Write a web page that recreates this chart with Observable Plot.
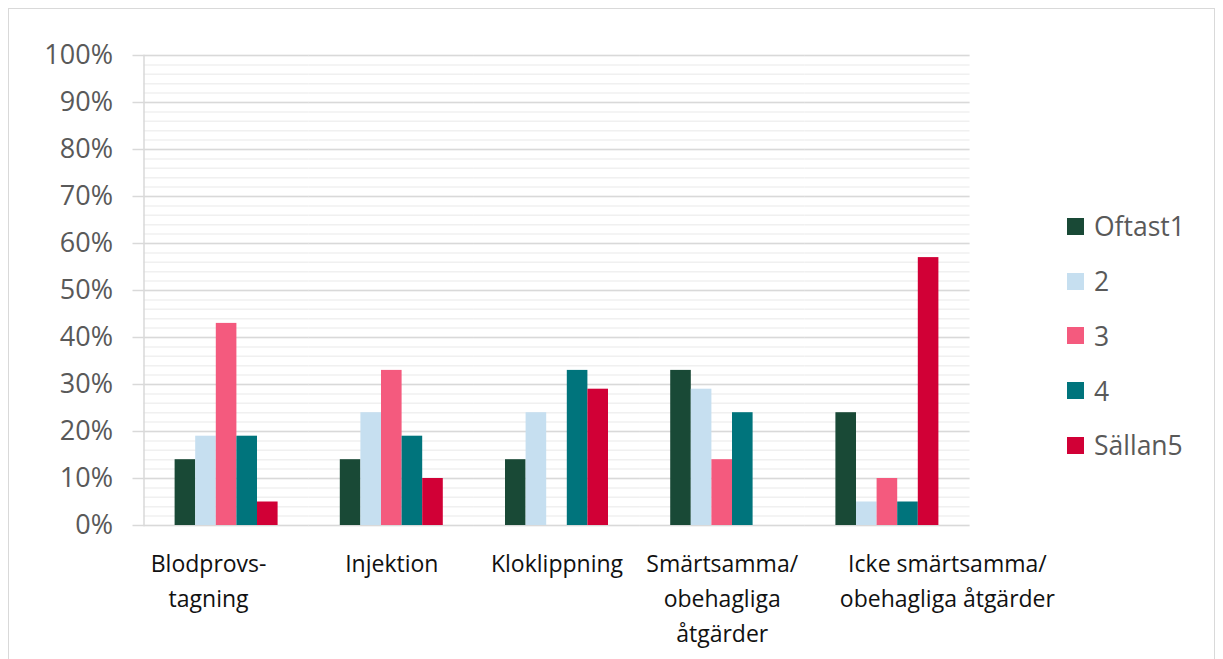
<!DOCTYPE html>
<html>
<head>
<meta charset="utf-8">
<script src="https://cdn.jsdelivr.net/npm/d3@7"></script>
<script src="https://cdn.jsdelivr.net/npm/@observablehq/plot@0.6"></script>
<style>
  html, body { margin: 0; padding: 0; background: #fff; }
  #wrap { position: relative; width: 1223px; height: 659px; overflow: hidden; }
  #border { position: absolute; left: 8px; top: 8px; width: 1207px; height: 700px; border: 1.5px solid #d9d9d9; box-sizing: border-box; }
  #chart { position: absolute; left: 0; top: 0; }
  #legend { position: absolute; left: 1067px; top: 199px; font-family: "Open Sans", sans-serif; font-size: 26.5px; color: #595959; }
  .row { display: flex; align-items: center; height: 54.75px; }
  .sw { width: 17px; height: 17px; margin-right: 10px; }
</style>
</head>
<body>
<div id="wrap">
  <div id="border"></div>
  <div id="chart"></div>
  <div id="legend"></div>
</div>
<script>
const categories = ["Blodprovstagning", "Injektion", "Kloklippning", "Smärtsamma", "Icke smärtsamma"];
const categoryLabels = ["Blodprovs-\ntagning", "Injektion", "Kloklippning", "Smärtsamma/\nobehagliga\nåtgärder", "Icke smärtsamma/\nobehagliga åtgärder"];
const series = ["Oftast1", "2", "3", "4", "Sällan5"];
const colors = ["#194936", "#c6dff0", "#f45a7e", "#00747c", "#d10036"];
const oftast1 = [14, 14, 14, 33, 24];
const s2 = [19, 24, 24, 29, 5];
const s3 = [43, 33, 0, 14, 10];
const s4 = [19, 19, 33, 24, 5];
const sallan5 = [5, 10, 29, 0, 57];
const majorTicks = [0, 10, 20, 30, 40, 50, 60, 70, 80, 90, 100];
const minorTicks = d3.range(0, 101, 2);

const seriesValues = [oftast1, s2, s3, s4, sallan5];
const data = [];
categories.forEach((c, ci) => series.forEach((s, si) => data.push({cat: c, series: s, value: seriesValues[si][ci]})));
const labelData = categories.map((c, i) => ({cat: c, label: categoryLabels[i]}));
const firstCat = categories[0];
const lastCat = categories[categories.length - 1];

const labelStyle = {fx: "cat", text: "label", frameAnchor: "bottom", lineAnchor: "top", dy: 21, lineHeight: 1.53, fontSize: 23, fill: "#111"};

const plot = Plot.plot({
  width: 1223,
  height: 659,
  marginLeft: 143.5,
  marginRight: 253.5,
  marginTop: 55,
  marginBottom: 134,
  style: {fontFamily: "Open Sans, sans-serif", background: "transparent"},
  fx: {domain: categories, padding: 0, round: false, axis: null},
  x: {domain: series, paddingInner: 0, paddingOuter: 1.51, round: false, axis: null},
  y: {domain: [0, 100], axis: null},
  color: {domain: series, range: colors},
  marks: [
    Plot.ruleY(minorTicks, {stroke: "#f0f0f0", strokeWidth: 1.5}),
    Plot.ruleY(majorTicks, {stroke: "#d9d9d9", strokeWidth: 1.5}),
    Plot.frame({anchor: "left", facetAnchor: "left", stroke: "#d9d9d9", strokeWidth: 1.5}),
    Plot.axisY({ticks: majorTicks, tickSize: 11, tickPadding: 20, stroke: "#d9d9d9", strokeWidth: 1.5, tickFormat: d => d + "%", fontSize: 27, fill: "#595959", label: null}),
    Plot.barY(data, {fx: "cat", x: "series", y: "value", fill: "series"}),
    Plot.text(labelData.filter(d => d.cat !== lastCat && d.cat !== firstCat), labelStyle),
    Plot.text(labelData.filter(d => d.cat === firstCat), {...labelStyle, dx: -18}),
    Plot.text(labelData.filter(d => d.cat === lastCat), {...labelStyle, dx: 60})
  ]
});
document.getElementById("chart").appendChild(plot);

const legend = document.getElementById("legend");
series.forEach((s, i) => {
  const row = document.createElement("div");
  row.className = "row";
  const sw = document.createElement("div");
  sw.className = "sw";
  sw.style.background = colors[i];
  const t = document.createElement("span");
  t.textContent = s;
  row.appendChild(sw);
  row.appendChild(t);
  legend.appendChild(row);
});
</script>
</body>
</html>
